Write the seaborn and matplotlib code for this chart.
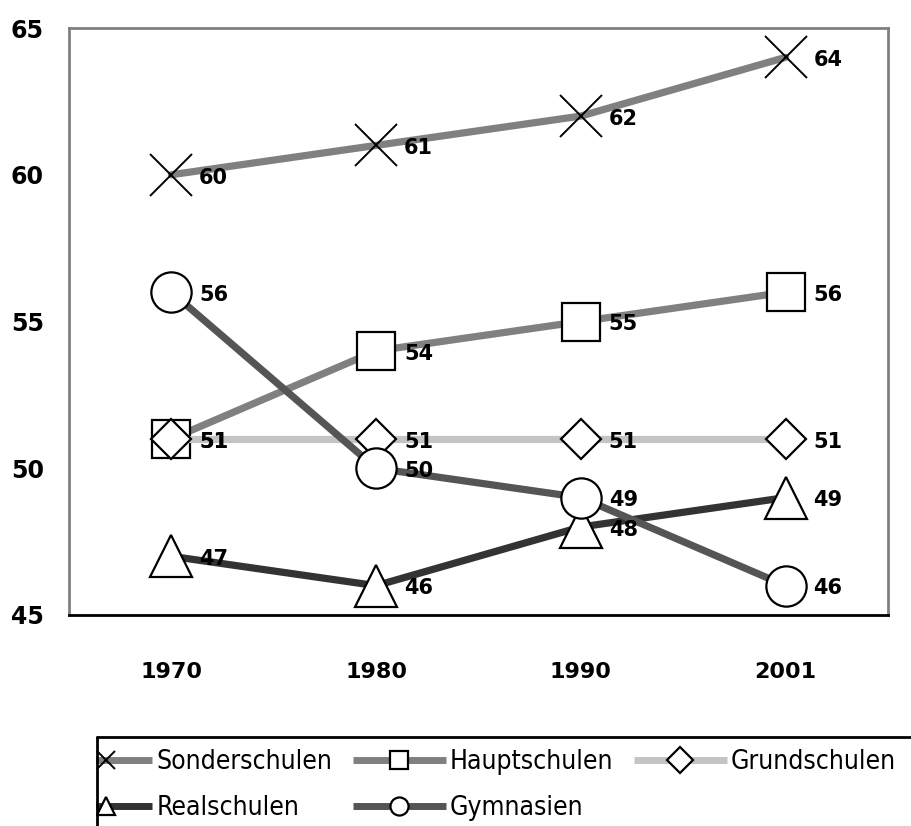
import matplotlib
matplotlib.use("Agg")
import matplotlib.pyplot as plt
import seaborn as sns
import pandas as pd

# data
jahre = ["1970", "1980", "1990", "2001"]
sonderschulen = [60, 61, 62, 64]
hauptschulen = [51, 54, 55, 56]
grundschulen = [51, 51, 51, 51]
realschulen = [47, 46, 48, 49]
gymnasien = [56, 50, 49, 46]
y_ticks = [45, 50, 55, 60, 65]

sns.set_style("white")
plt.rcParams["text.color"] = "black"
plt.rcParams["xtick.color"] = "black"
plt.rcParams["ytick.color"] = "black"

serien = [
    ("Sonderschulen", sonderschulen, "#808080", "x", 30),
    ("Hauptschulen", hauptschulen, "#808080", "s", 28),
    ("Grundschulen", grundschulen, "#c4c4c4", "D", 20),
    ("Realschulen", realschulen, "#333333", "^", 30),
    ("Gymnasien", gymnasien, "#555555", "o", 29),
]

zahl_font = dict(family="DejaVu Sans", fontweight="bold")

fig = plt.figure(figsize=(9.11, 8.26), dpi=100)
ax = fig.add_axes([69 / 911, 1 - 615 / 826, (888 - 69) / 911, (615 - 28) / 826])

pos = list(range(len(jahre)))
handles = {}
for name, werte, farbe, marker, ms in serien:
    df = pd.DataFrame({"x": pos, "y": werte})
    mew = 1.6 if marker != "x" else 1.4
    sns.lineplot(data=df, x="x", y="y", ax=ax, color=farbe, lw=5.2,
                 marker=marker, markersize=ms, markerfacecolor="white",
                 markeredgecolor="black", markeredgewidth=mew,
                 label=name, legend=False)
    for xi, yi in zip(pos, werte):
        ax.annotate(str(yi), (xi, yi), xytext=(20, -2), textcoords="offset points",
                    ha="left", va="center", fontsize=15, color="black", **zahl_font)
    handles[name] = plt.Line2D([], [], color=farbe, lw=5, marker=marker, markersize=13,
                               markerfacecolor="white", markeredgecolor="black",
                               markeredgewidth=mew, solid_capstyle="butt")

ax.set_xlim(-0.5, 3.5)
ax.set_ylim(45, 65)
ax.set_yticks(y_ticks)
ax.set_yticklabels([str(v) for v in y_ticks], fontsize=17, **zahl_font)
ax.tick_params(axis="y", length=0, pad=18)

ax.set_xticks([-0.5, 0.5, 1.5, 2.5, 3.5])
ax.set_xticklabels([])
ax.tick_params(axis="x", which="major", length=10, width=1.5, direction="out", color="black")
ax.set_xticks(pos, minor=True)
ax.set_xticklabels(jahre, minor=True, fontsize=16, **zahl_font)
ax.tick_params(axis="x", which="minor", length=0, pad=34)
ax.set_xlabel("")
ax.set_ylabel("")

for s in ["left", "top", "right"]:
    ax.spines[s].set_color("#808080")
    ax.spines[s].set_linewidth(2)
ax.spines["bottom"].set_color("black")
ax.spines["bottom"].set_linewidth(2)

# legend row-wise: Sonder, Haupt, Grund / Real, Gym
reihenfolge = ["Sonderschulen", "Realschulen", "Hauptschulen", "Gymnasien", "Grundschulen"]
leg = fig.legend([handles[n] for n in reihenfolge], reihenfolge, loc="upper left",
                 bbox_to_anchor=(60 / 911, 1 - 749 / 826), ncol=3,
                 prop={"family": "DejaVu Sans", "size": 19, "stretch": "condensed"},
                 handlelength=3.5, handletextpad=0.15, columnspacing=0.8,
                 borderaxespad=0, borderpad=0.0, labelspacing=0.75,
                 frameon=False)

# the legend is cut off on the left by its box, like in the original
fig.add_artist(plt.Rectangle((0, 0), 96 / 911, 1 - 737 / 826, transform=fig.transFigure,
                             facecolor="white", edgecolor="none", zorder=10))
# legend box (cut off at right and bottom like in the original)
fig.add_artist(plt.Line2D([97 / 911, 1], [1 - 737 / 826, 1 - 737 / 826],
                          transform=fig.transFigure, color="black", lw=2, zorder=11))
fig.add_artist(plt.Line2D([97 / 911, 97 / 911], [0, 1 - 737 / 826],
                          transform=fig.transFigure, color="black", lw=2, zorder=11))

fig.savefig("out.png", dpi=100)
